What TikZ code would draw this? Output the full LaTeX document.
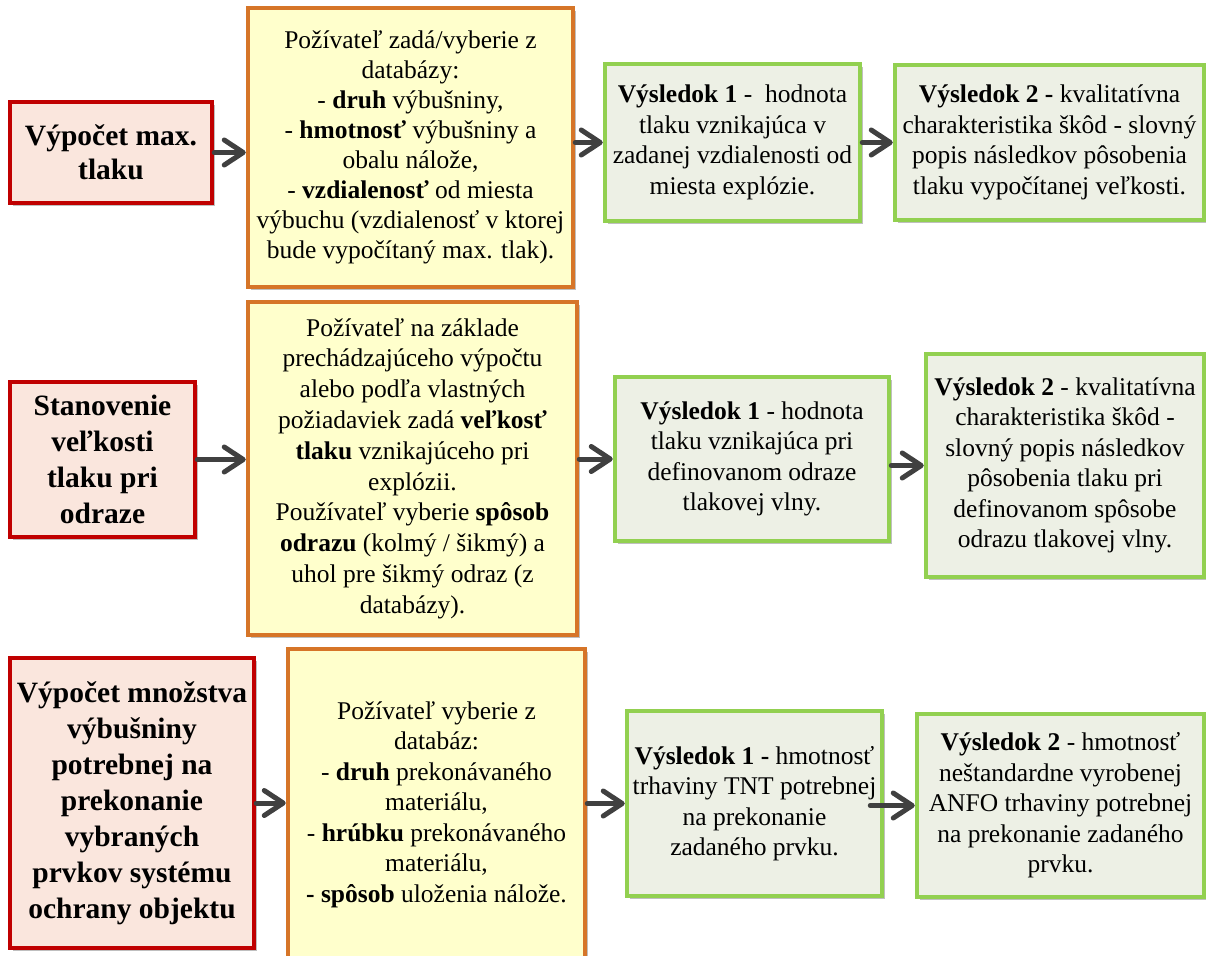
\documentclass[tikz,border=0pt]{standalone}
\usepackage{fontspec}
\setmainfont{Liberation Serif}
\usetikzlibrary{arrows.meta,shadows}
\definecolor{boxred}{RGB}{192,0,0}
\definecolor{redfill}{RGB}{250,230,221}
\definecolor{orng}{RGB}{214,117,40}
\definecolor{yelfill}{RGB}{255,255,204}
\definecolor{grn}{RGB}{146,208,80}
\definecolor{grnfill}{RGB}{237,240,229}
\definecolor{arrgray}{RGB}{64,64,64}
\tikzset{
  box/.style={rectangle, line width=4.5pt, align=center, inner sep=0pt,
    drop shadow={shadow xshift=3pt, shadow yshift=-3pt, opacity=0.25, fill=black}},
  redbox/.style={box, draw=boxred, fill=redfill},
  titleA/.style={font=\fontsize{29.5}{34}\selectfont\bfseries},
  titleB/.style={font=\fontsize{29.5}{36}\selectfont\bfseries},
  yelbox/.style={box, draw=orng, fill=yelfill, font=\fontsize{25.5}{30}\selectfont},
  grnbox/.style={box, draw=grn, fill=grnfill, font=\fontsize{25.5}{30.5}\selectfont},
  arr/.style={line width=5pt, draw=arrgray, line cap=round,
    -{Straight Barb[length=19pt,width=25pt,line cap=round,line join=round]}}
}
\begin{document}
\begin{tikzpicture}[x=1pt,y=-1pt]
\useasboundingbox (0,0) rectangle (1206,955);
\fill[white] (0,0) rectangle (1206,955);

% Row 1
\node[redbox, titleA, minimum width=202pt, minimum height=101pt] (A1) at (111,152.5)
  {Výpočet max.\\tlaku};
\node[yelbox, minimum width=325pt, minimum height=279pt] (B1) at (410.5,147.5)
  {Požívateľ zadá/vyberie z\\databázy:\\- \textbf{druh} výbušniny,\\- \textbf{hmotnosť} výbušniny a\\obalu nálože,\\- \textbf{vzdialenosť} od miesta\\výbuchu (vzdialenosť v ktorej\\bude vypočítaný max. tlak).};
\node[grnbox, minimum width=255pt, minimum height=157pt] (C1) at (732.5,142.5)
  {\textbf{Výsledok 1} -~ hodnota\\tlaku vznikajúca v\\zadanej vzdialenosti od\\miesta explózie.};
\node[grnbox, minimum width=309pt, minimum height=155pt] (D1) at (1049.5,142.5)
  {\textbf{Výsledok 2 -} kvalitatívna\\charakteristika škôd - slovný\\popis následkov pôsobenia\\tlaku vypočítanej veľkosti.};

% Row 2
\node[redbox, titleB, minimum width=185pt, minimum height=155pt] (A2) at (102.5,459.5)
  {Stanovenie\\veľkosti\\tlaku pri\\odraze};
\node[yelbox, font=\fontsize{25.5}{30.8}\selectfont, minimum width=329pt, minimum height=333pt] (B2) at (412.5,468.5)
  {Požívateľ na základe\\prechádzajúceho výpočtu\\alebo podľa vlastných\\požiadaviek zadá \textbf{veľkosť}\\\textbf{tlaku} vznikajúceho pri\\explózii.\\Používateľ vyberie \textbf{spôsob}\\\textbf{odrazu} (kolmý / šikmý) a\\uhol pre šikmý odraz (z\\databázy).};
\node[grnbox, minimum width=274pt, minimum height=164pt] (C2) at (752,459)
  {\textbf{Výsledok 1} - hodnota\\tlaku vznikajúca pri\\definovanom odraze\\tlakovej vlny.};
\node[grnbox, minimum width=278pt, minimum height=223pt] (D2) at (1065,465.5)
  {\textbf{Výsledok 2} - kvalitatívna\\charakteristika škôd -\\slovný popis následkov\\pôsobenia tlaku pri\\definovanom spôsobe\\odrazu tlakovej vlny.};

% Row 3
\node[redbox, titleB, minimum width=244pt, minimum height=290pt] (A3) at (132,803)
  {Výpočet množstva\\výbušniny\\potrebnej na\\prekonanie\\vybraných\\prvkov systému\\ochrany objektu};
\node[yelbox, font=\fontsize{25.5}{30.5}\selectfont, minimum width=297pt, minimum height=311pt] (B3) at (436.5,804.5)
  {Požívateľ vyberie z\\databáz:\\- \textbf{druh} prekonávaného\\materiálu,\\- \textbf{hrúbku} prekonávaného\\materiálu,\\\textbf{- spôsob} uloženia nálože.};
\node[grnbox, minimum width=255pt, minimum height=185pt] (C3) at (754.5,803.5)
  {\textbf{Výsledok 1 -} hmotnosť\\trhaviny TNT potrebnej\\na prekonanie\\zadaného prvku.};
\node[grnbox, minimum width=287pt, minimum height=183pt] (D3) at (1060.5,805.5)
  {\textbf{Výsledok 2} - hmotnosť\\neštandardne vyrobenej\\ANFO trhaviny potrebnej\\na prekonanie zadaného\\prvku.};

% Arrows
\draw[arr] (A1.east) -- (A1.east -| B1.west);
\draw[arr] (B1.east |- C1.west) -- (C1.west);
\draw[arr] (C1.east) -- (D1.west);
\draw[arr] (A2.east) -- (A2.east -| B2.west);
\draw[arr] (B2.east |- C2.west) -- (C2.west);
\draw[arr] (C2.east |- D2.west) -- (D2.west);
\draw[arr] (A3.east) -- (A3.east -| B3.west);
\draw[arr] (B3.east |- C3.west) -- (C3.west);
\coordinate (c3out) at ([xshift=-14pt]C3.east |- D3.west);
\draw[arr] (c3out) -- (D3.west);
\end{tikzpicture}
\end{document}
